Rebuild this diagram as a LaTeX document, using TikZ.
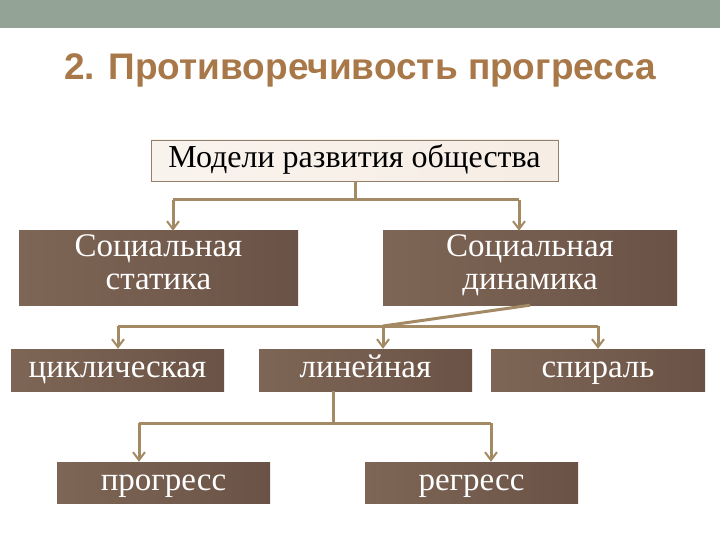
\documentclass[tikz,border=0pt]{standalone}
\usepackage{fontspec}
\setmainfont{Liberation Serif}
\newfontfamily\titlefont{Liberation Sans}
\usetikzlibrary{arrows.meta}
\definecolor{bar}{HTML}{93A396}
\definecolor{boxd}{HTML}{6A5346}
\definecolor{boxl}{HTML}{7E6656}
\definecolor{conn}{HTML}{A48A64}
\definecolor{ttl}{HTML}{A87848}
\tikzset{
 darkbox/.style={draw=none,left color=boxl,right color=boxd,text=white,font=\fontsize{33}{33}\selectfont,align=center,inner sep=0pt,text height=22pt,text depth=7pt},
 conline/.style={draw=conn,line width=3pt},
 conarrow/.style={conline,-{Straight Barb[length=8pt,width=12pt,line width=2pt]}},
}
\begin{document}
\begin{tikzpicture}[x=1pt,y=-1pt]
\useasboundingbox (0,0) rectangle (720,540);
\fill[white] (0,0) rectangle (720,540);
\fill[bar] (0,0) rectangle (720,28);
\node[font=\titlefont\bfseries\fontsize{37}{37}\selectfont,text=ttl] (title) at (360,70) {2. Противоречивость прогресса};
\node[draw=gray!70!brown,left color=white!85!brown!60,right color=white!80!brown!70,minimum width=407pt,minimum height=41pt,inner sep=0pt,font=\fontsize{32}{32}\selectfont,text height=21pt,text depth=7pt] (top) at (354.5,160.5) {Модели развития общества};
\node[darkbox,minimum width=279pt,minimum height=74pt,text height=50pt] (stat) at (158.5,268) {Социальная\\статика};
\node[darkbox,minimum width=294pt,minimum height=74pt,text height=50pt] (dyn) at (530,268) {Социальная\\динамика};
\node[darkbox,minimum width=213pt,minimum height=42pt] (cyc) at (117.5,370) {циклическая};
\node[darkbox,minimum width=213pt,minimum height=42pt] (lin) at (365.5,370) {линейная};
\node[darkbox,minimum width=214pt,minimum height=42pt] (spi) at (598,370) {спираль};
\node[darkbox,minimum width=213pt,minimum height=41pt] (pro) at (163.5,482.5) {прогресс};
\node[darkbox,minimum width=213pt,minimum height=41pt] (reg) at (471.5,482.5) {регресс};
\coordinate (j1) at (355,200);
\coordinate (j2) at (383,326);
\coordinate (j3) at (333,423);
\draw[conline] (top.south -| j1) -- (j1);
\draw[conline] (173,200) -- (519,200);
\draw[conarrow] (173,200) -- (stat.north -| 173,0);
\draw[conarrow] (519,200) -- (dyn.north -| 519,0);
\draw[conline] (dyn.south -| 530,0) -- (j2);
\draw[conline] (118,326) -- (598,326);
\draw[conarrow] (118,326) -- (cyc.north -| 118,0);
\draw[conarrow] (j2) -- (lin.north -| j2);
\draw[conarrow] (598,326) -- (spi.north -| 598,0);
\draw[conline] (lin.south -| j3) -- (j3);
\draw[conline] (139,423) -- (491,423);
\draw[conarrow] (139,423) -- (pro.north -| 139,0);
\draw[conarrow] (491,423) -- (reg.north -| 491,0);
\end{tikzpicture}
\end{document}
